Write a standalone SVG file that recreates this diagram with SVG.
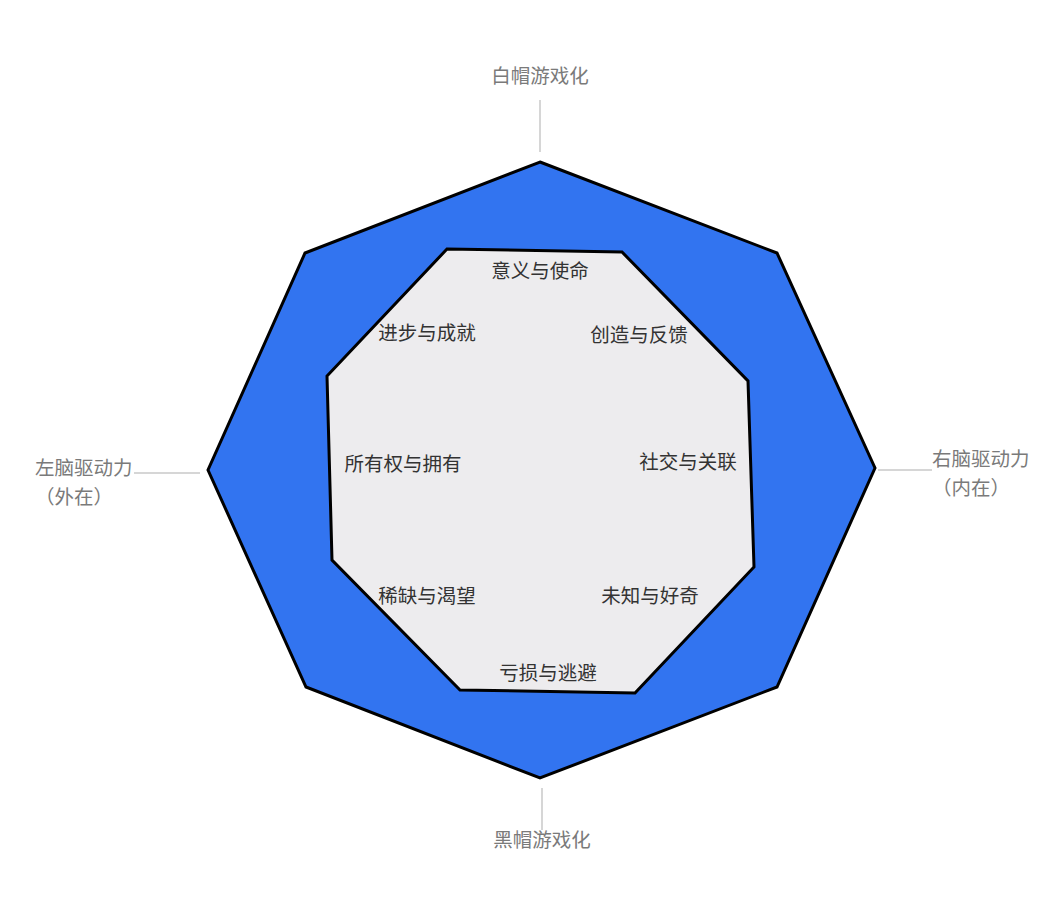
<svg xmlns="http://www.w3.org/2000/svg" width="1059" height="910" viewBox="0 0 1059 910">
<style>
.lbl{font-family:"Noto Sans CJK SC","Liberation Sans",sans-serif;font-size:19.5px;fill:#7a7a7a;}
.in{font-family:"Noto Sans CJK SC","Liberation Sans",sans-serif;font-size:19.5px;fill:#333;text-anchor:middle;}
.ln{stroke:#c8c8c8;stroke-width:1.5;fill:none;}
</style>
<rect width="1059" height="910" fill="#fff"/>
<g id="connectors">
<line class="ln" x1="540" y1="100" x2="540" y2="152"/>
<line class="ln" x1="542" y1="788" x2="542" y2="830"/>
<line class="ln" x1="134" y1="473" x2="200" y2="473"/>
<line class="ln" x1="878" y1="470" x2="932" y2="470"/>
</g>
<g id="outer">
<polygon points="540,162 777,253 875,468 777,687 540,778 306,687 208,470 305,253" fill="#3274f0" stroke="#000" stroke-width="3" stroke-linejoin="miter"/>
</g>
<g id="inner">
<polygon points="447,249 622,252 748,381 754,567 635,693 460,690 332,560 327,376" fill="#edecee" stroke="#000" stroke-width="3"/>
</g>
<g id="labels">
<text class="lbl" x="540" y="83" text-anchor="middle">白帽游戏化</text>
<text class="lbl" x="542" y="847" text-anchor="middle">黑帽游戏化</text>
<text class="lbl" x="35" y="475">左脑驱动力</text>
<text class="lbl" x="35" y="504">（外在）</text>
<text class="lbl" x="932" y="466">右脑驱动力</text>
<text class="lbl" x="932" y="495">（内在）</text>
</g>
<g id="drives">
<text class="in" x="540" y="278">意义与使命</text>
<text class="in" x="427" y="340">进步与成就</text>
<text class="in" x="639" y="342">创造与反馈</text>
<text class="in" x="403" y="471">所有权与拥有</text>
<text class="in" x="688" y="469">社交与关联</text>
<text class="in" x="427" y="603">稀缺与渴望</text>
<text class="in" x="650" y="603">未知与好奇</text>
<text class="in" x="548" y="680">亏损与逃避</text>
</g>
</svg>
